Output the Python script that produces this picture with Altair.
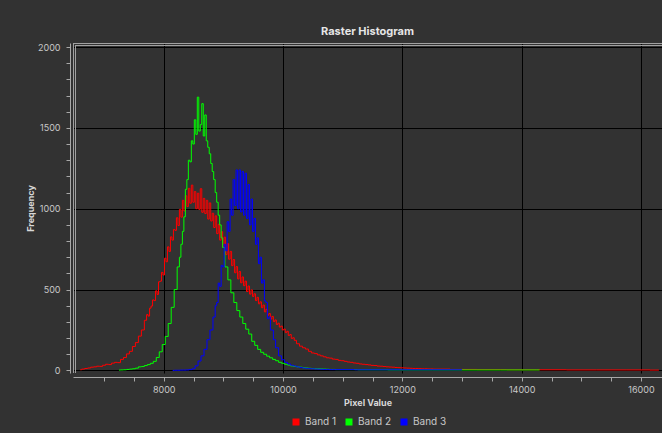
import altair as alt
import pandas as pd

bands = ["Band 1", "Band 2", "Band 3"]
band_colors = ["#ff0000", "#00ff00", "#0000ff"]

# ---- Band 1 (red) ----
red_left_start, red_left_step = 6600, 50
red_left = [4, 8, 12, 15, 20, 22, 26, 25, 32, 38, 36, 45, 50, 48, 68, 80, 102, 118, 148, 172, 212, 250]
red_core_start, red_core_step = 7700, 25
red_core = [310, 345, 336, 385, 398, 436, 432, 492, 470, 548,
            552, 606, 590, 694, 672, 764, 736, 826, 806, 872,
            866, 944, 896, 996, 948, 1052, 986, 1080, 1014, 1126,
            1034, 1146, 1040, 1106, 1000, 1096, 996, 1124, 978, 1064,
            970, 1052, 936, 1036, 924, 972, 884, 956, 846, 904,
            806, 858, 764, 824, 716, 784, 688, 736, 648, 686,
            604, 642, 566, 612, 542, 578, 524, 552, 488, 522,
            472, 498, 458, 474, 432, 452, 412, 424, 388, 404,
            362, 378, 342, 352, 318, 334, 302, 312, 284, 292,
            268, 274, 250, 256, 234, 242, 216, 222, 198, 202,
            186]
red_right_start, red_right_step = 10250, 50
red_right = [165, 150, 140, 132, 118, 108, 104, 96, 90, 84, 78, 76, 70, 68, 62, 60, 56, 52, 50, 46,
             44, 40, 38, 36, 34, 31, 30, 27, 26, 24, 22, 21, 20, 18, 17, 16, 15, 14, 13, 12,
             12, 11, 10, 10, 9, 9, 8, 8]
red_tail_x = [13000, 13500, 14000, 14500, 15000, 15500, 16000, 16300]
red_tail_y = [6, 5, 4, 4, 3, 3, 3, 2]

# ---- Band 2 (green) ----
green_left_start, green_left_step = 7250, 50
green_left = [2, 3, 4, 6, 8, 10, 14, 22, 24, 30, 36, 44, 56, 80, 115, 160, 210, 290, 390, 500]
green_core_start, green_core_step = 8250, 25
green_core = [640, 700, 780, 860, 950, 1120, 1180, 1300, 1290, 1420, 1400, 1550, 1460, 1690, 1480, 1520,
              1650, 1450, 1580, 1420, 1380, 1340, 1280, 1230, 1180, 1100, 1040, 960, 900, 820, 760]
green_right_start, green_right_step = 9050, 50
green_right = [640, 560, 480, 420, 370, 330, 290, 255, 225, 180, 155, 130, 112, 100, 88, 78, 68, 60, 50, 44,
               38, 33, 28, 25, 22, 20, 17, 15, 13, 12, 11, 10, 9, 8, 7, 6, 6, 5, 5, 5]
green_tail_x = [11500, 12000, 13000, 14300]
green_tail_y = [4, 3, 3, 3]

# ---- Band 3 (blue) ----
blue_left_start, blue_left_step = 8150, 50
blue_left = [0, 1, 1, 2, 2, 3, 5, 10, 28, 58, 90, 130, 190, 250, 330]
blue_core_start, blue_core_step = 8875, 25
blue_core = [400, 420, 540, 520, 650, 640, 780, 740, 920, 860,
             1060, 960, 1180, 1020, 1240, 1000, 1240, 980, 1230, 960,
             1220, 940, 1150, 900, 1060, 860, 940, 780, 820, 660,
             700, 540, 560, 430, 420, 320, 330, 250, 250, 190]
blue_right_start, blue_right_step = 9900, 50
blue_right = [140, 90, 66, 50, 40, 32, 27, 22, 18, 15, 13, 11, 10, 9, 8, 7, 6, 6, 5, 5, 5]
blue_tail_x = [11500, 12000, 13000]
blue_tail_y = [4, 4, 4]

x_ticks = list(range(7000, 16001, 500))
y_ticks = list(range(0, 2001, 100))


def seg(start, step, vals):
    return [(start + step * i, v) for i, v in enumerate(vals)]


rows = []
parts = {
    "Band 1": seg(red_left_start, red_left_step, red_left) + seg(red_core_start, red_core_step, red_core)
    + seg(red_right_start, red_right_step, red_right) + list(zip(red_tail_x, red_tail_y)),
    "Band 2": seg(green_left_start, green_left_step, green_left) + seg(green_core_start, green_core_step, green_core)
    + seg(green_right_start, green_right_step, green_right) + list(zip(green_tail_x, green_tail_y)),
    "Band 3": seg(blue_left_start, blue_left_step, blue_left) + seg(blue_core_start, blue_core_step, blue_core)
    + seg(blue_right_start, blue_right_step, blue_right) + list(zip(blue_tail_x, blue_tail_y)),
}
for b, pts in parts.items():
    for xv, yv in pts:
        rows.append({"value": xv, "freq": yv, "band": b})
df = pd.DataFrame(rows)

FONT = "Inter"
W, H = 589, 330
axis_gray = "#a8a8a8"
label_gray = "#c8c8c8"

lines = alt.Chart(df).mark_line(interpolate="step", strokeWidth=1, clip=True).encode(
    x=alt.X(
        "value:Q",
        title="Pixel Value",
        scale=alt.Scale(domain=[6479, 16352], nice=False, zero=False),
        axis=alt.Axis(
            values=x_ticks,
            format="d",
            labelExpr="datum.value % 2000 === 0 ? datum.label : ''",
            gridOpacity={"condition": {"test": "datum.value % 2000 === 0", "value": 1}, "value": 0},
            offset=4,
            tickSize=4,
            labelPadding=4,
            titlePadding=4,
        ),
    ),
    y=alt.Y(
        "freq:Q",
        title="Frequency",
        scale=alt.Scale(domain=[-16, 2025], nice=False, zero=False),
        axis=alt.Axis(
            values=y_ticks,
            format="d",
            labelExpr="datum.value % 500 === 0 ? datum.label : ''",
            gridOpacity={"condition": {"test": "datum.value % 500 === 0", "value": 1}, "value": 0},
            offset=3,
            tickSize=4,
            labelPadding=6,
            titlePadding=2,
        ),
    ),
    color=alt.Color(
        "band:N",
        scale=alt.Scale(domain=bands, range=band_colors),
        legend=alt.Legend(
            title=None,
            orient="none",
            legendX=216,
            legendY=372,
            direction="horizontal",
            symbolType="stroke",
            symbolSize=49,
            symbolStrokeWidth=7,
            labelFontSize=10,
            labelColor=label_gray,
            labelFont=FONT,
            columnPadding=-6,
            labelOffset=2,
        ),
    ),
)

frame_top1 = alt.Chart(df).mark_rule(color="#a0a0a0", strokeWidth=1).encode(
    x=alt.value(0), x2=alt.value(W), y=alt.value(0.5))
frame_top2 = alt.Chart(df).mark_rule(color="#a0a0a0", strokeWidth=1).encode(
    x=alt.value(2), x2=alt.value(W), y=alt.value(2.5))
frame_left1 = alt.Chart(df).mark_rule(color="#a0a0a0", strokeWidth=1).encode(
    x=alt.value(0.5), y=alt.value(0), y2=alt.value(H))
frame_left2 = alt.Chart(df).mark_rule(color="#a0a0a0", strokeWidth=1).encode(
    x=alt.value(2.5), y=alt.value(2), y2=alt.value(H))

chart = alt.layer(lines, frame_top1, frame_top2, frame_left1, frame_left2).properties(
    width=W,
    height=H,
    autosize=alt.AutoSizeParams(type="none"),
    padding={"left": 73, "top": 43, "right": 0, "bottom": 60},
    title=alt.TitleParams("Raster Histogram", fontSize=11, fontWeight="bold", color="#e6e6e6",
                          font=FONT, offset=6),
    background="#323232",
).configure_view(
    fill="#323232", stroke=None
).configure_axis(
    gridColor="#000000",
    gridWidth=1,
    domainColor=axis_gray,
    tickColor=axis_gray,
    labelColor=label_gray,
    labelFont=FONT,
    labelFontSize=9,
    titleFont=FONT,
    titleFontSize=9,
    titleFontWeight="bold",
    titleColor="#d8d8d8",
)

chart.save("out.html", embed_options={"renderer": "svg", "actions": False})
